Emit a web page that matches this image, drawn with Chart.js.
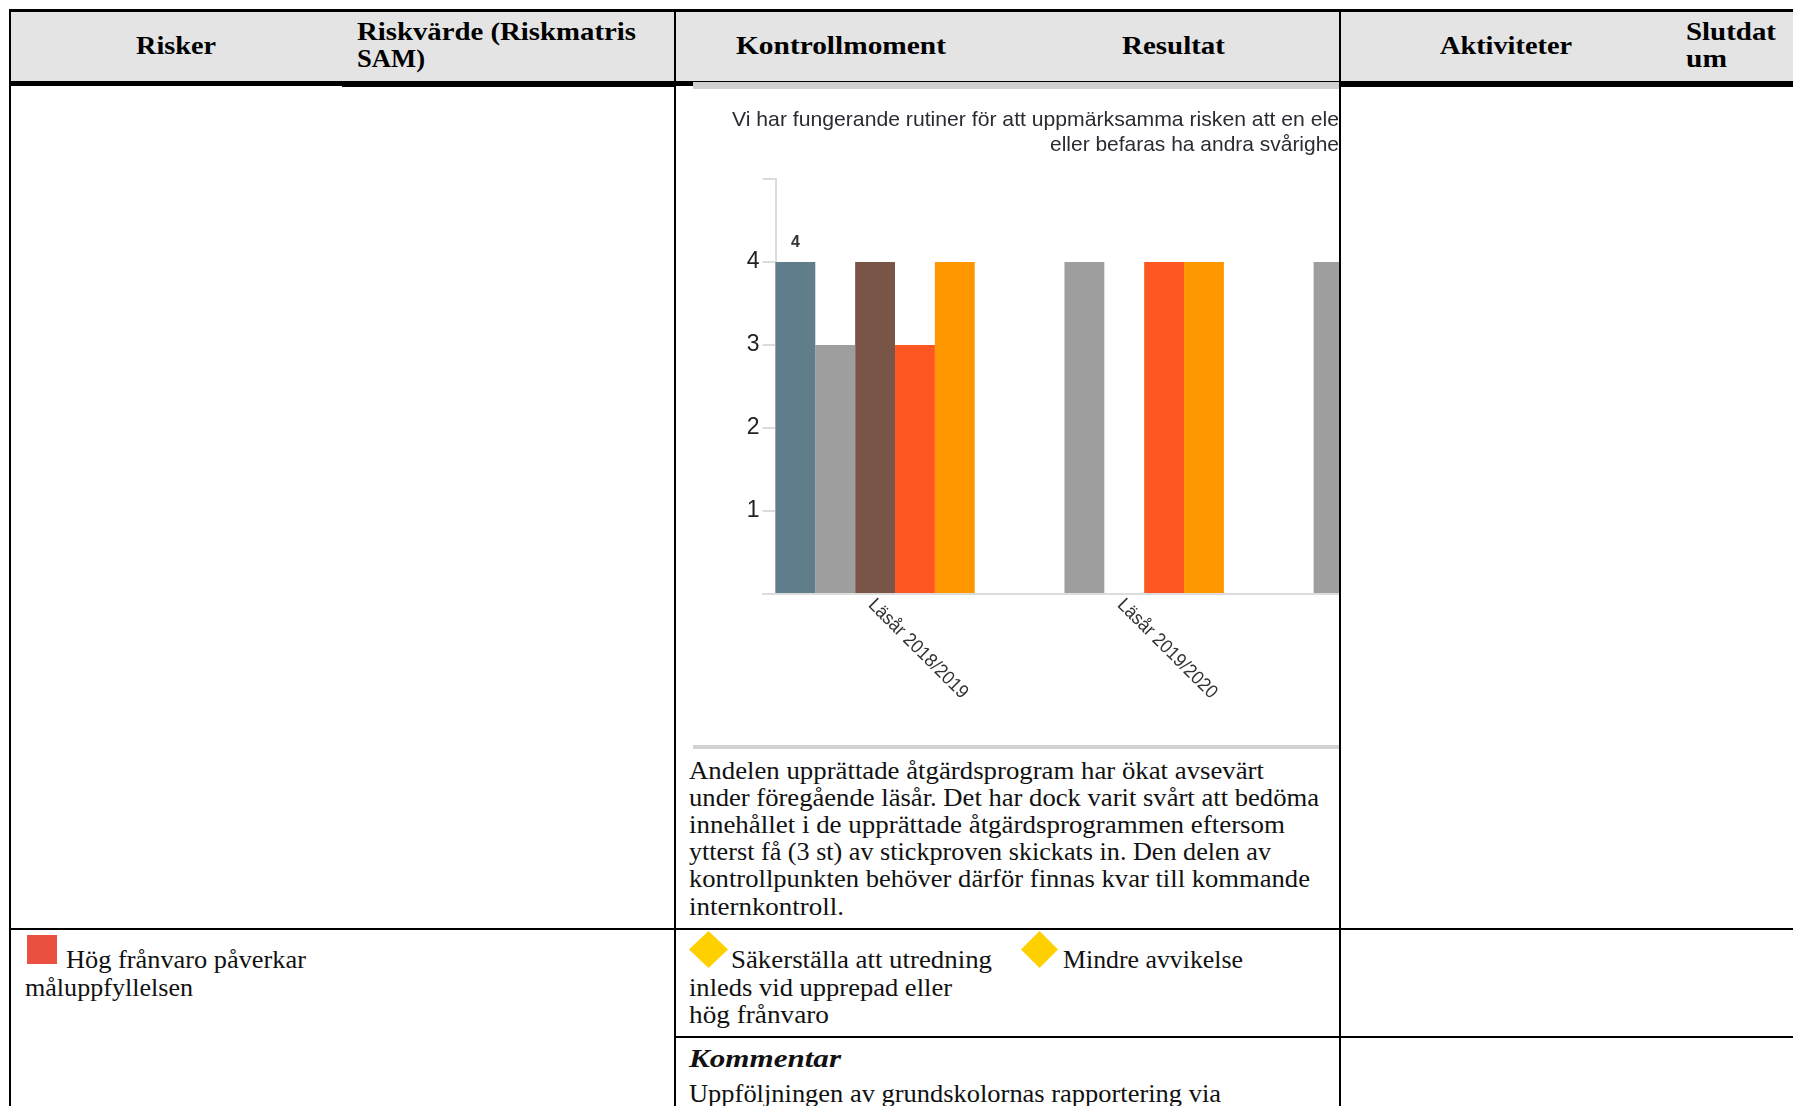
<!DOCTYPE html>
<html>
<head>
<meta charset="utf-8">
<script src="https://cdn.jsdelivr.net/npm/chart.js@4"></script>
<style>
  html, body { margin: 0; padding: 0; background: #fff; overflow: hidden; }
  #page { position: relative; width: 1793px; height: 1106px; overflow: hidden; font-family: "Liberation Serif", serif; color: #111; }
  .box { position: absolute; }
  .line { position: absolute; background: #000; }
  .t { position: absolute; white-space: nowrap; font-size: 26px; line-height: 30px; transform-origin: 0 50%; }
  .h { font-weight: bold; font-size: 26px; color: #000; }
  .ct { font-family: "Liberation Sans", sans-serif; font-size: 21px; line-height: 24px; color: #2b2b33; }
  #chartClip { position: absolute; left: 676px; top: 89px; width: 663px; height: 656px; overflow: hidden; }
  #chart { position: absolute; left: 17px; top: 0; }
  .diamond { position: absolute; background: #ffd000; clip-path: polygon(50% 0, 100% 50%, 50% 100%, 0 50%); }
</style>
</head>
<body>
<div id="page">
  <div class="box" style="left:10px;top:10px;width:1783px;height:71px;background:#e4e4e4"></div>
  <div class="box" style="left:693px;top:82px;width:646px;height:7px;background:#cfcfcf"></div>
  <div class="box" style="left:693px;top:745px;width:646px;height:4px;background:#d2d2d2"></div>

  <div id="chartClip"><canvas id="chart" width="805" height="656"></canvas></div>

  <div class="line" style="left:9px;top:9px;width:1784px;height:3px"></div>
  <div class="line" style="left:9px;top:81px;width:665px;height:5px"></div>
  <div class="line" style="left:342px;top:86px;width:333px;height:1px"></div>
  <div class="line" style="left:674px;top:81px;width:19px;height:5px"></div>
  <div class="line" style="left:693px;top:81px;width:646px;height:1px"></div>
  <div class="line" style="left:1339px;top:81px;width:454px;height:6px"></div>
  <div class="line" style="left:9px;top:9px;width:2px;height:1097px"></div>
  <div class="line" style="left:674px;top:9px;width:2px;height:1097px"></div>
  <div class="line" style="left:1339px;top:9px;width:2px;height:1097px"></div>
  <div class="line" style="left:9px;top:928px;width:1784px;height:2px"></div>
  <div class="line" style="left:674px;top:1036px;width:1119px;height:2px"></div>

  <span class="t h" data-x="136" data-y="46" data-w="80">Risker</span>
  <span class="t h" data-x="357" data-y="32" data-w="279">Riskvärde (Riskmatris</span>
  <span class="t h" data-x="356.5" data-y="59" data-w="68">SAM)</span>
  <span class="t h" data-x="736" data-y="46" data-w="210">Kontrollmoment</span>
  <span class="t h" data-x="1122" data-y="46" data-w="103">Resultat</span>
  <span class="t h" data-x="1439.5" data-y="46" data-w="132">Aktiviteter</span>
  <span class="t h" data-x="1686" data-y="32" data-w="90">Slutdat</span>
  <span class="t h" data-x="1686" data-y="59" data-w="41">um</span>

  <span class="t ct" data-x="732" data-y="119" data-w="607">Vi har fungerande rutiner för att uppmärksamma risken att en ele</span>
  <span class="t ct" data-x="1050" data-y="144" data-w="289">eller befaras ha andra svårighe</span>

  <span class="t" data-x="689" data-y="771" data-w="575">Andelen upprättade åtgärdsprogram har ökat avsevärt</span>
  <span class="t" data-x="689" data-y="798" data-w="630">under föregående läsår. Det har dock varit svårt att bedöma</span>
  <span class="t" data-x="689" data-y="825" data-w="596">innehållet i de upprättade åtgärdsprogrammen eftersom</span>
  <span class="t" data-x="689" data-y="852" data-w="582">ytterst få (3 st) av stickproven skickats in. Den delen av</span>
  <span class="t" data-x="689" data-y="879" data-w="621">kontrollpunkten behöver därför finnas kvar till kommande</span>
  <span class="t" data-x="689" data-y="907" data-w="155">internkontroll.</span>

  <div class="box" style="left:27px;top:935px;width:30px;height:29px;background:#ea4f3f"></div>
  <span class="t" data-x="66" data-y="960" data-w="240">Hög frånvaro påverkar</span>
  <span class="t" data-x="25" data-y="988" data-w="168">måluppfyllelsen</span>

  <div class="diamond" style="left:689px;top:931px;width:39px;height:37px"></div>
  <span class="t" data-x="731" data-y="960" data-w="261">Säkerställa att utredning</span>
  <span class="t" data-x="689" data-y="988" data-w="263">inleds vid upprepad eller</span>
  <span class="t" data-x="689" data-y="1015" data-w="140">hög frånvaro</span>
  <div class="diamond" style="left:1021px;top:931px;width:37px;height:37px"></div>
  <span class="t" data-x="1063" data-y="960" data-w="180">Mindre avvikelse</span>

  <span class="t" style="font-weight:bold;font-style:italic" data-x="689" data-y="1059" data-w="152">Kommentar</span>
  <span class="t" data-x="689" data-y="1094" data-w="532">Uppföljningen av grundskolornas rapportering via</span>
</div>

<script>
const categories = ["Läsår 2018/2019", "Läsår 2019/2020", "Läsår 2020/2021"];
const seriesBlue = [4, null, null];
const seriesGray = [3, 4, 4];
const seriesBrown = [4, null, null];
const seriesRed = [3, 4, null];
const seriesOrange = [4, 4, null];
const yTickValues = [1, 2, 3, 4];

// place the text lines and squeeze them to the measured width
document.querySelectorAll(".t").forEach(el => {
  const w = el.getBoundingClientRect().width;
  const h = el.getBoundingClientRect().height;
  el.style.left = el.dataset.x + "px";
  el.style.top = (el.dataset.y - h / 2) + "px";
  el.style.transform = "scaleX(" + (el.dataset.w / w) + ")";
});

// y axis sits inside the first category band and the x line starts at the tick end
const axisShift = {
  id: "axisShift",
  afterLayout(chart) {
    const y = chart.scales.y, x = chart.scales.x;
    y.left += 25;
    y.right += 25;
    x.left += 12;
  }
};

// rotated category labels run downwards to the right, which ticks can't do
const slantLabels = {
  id: "slantLabels",
  afterDraw(chart) {
    const ctx = chart.ctx, x = chart.scales.x;
    ctx.save();
    ctx.font = '19px "Liberation Sans", sans-serif';
    ctx.fillStyle = "#333";
    ctx.textBaseline = "middle";
    categories.forEach((label, i) => {
      ctx.save();
      ctx.translate(x.getPixelForTick(i) - 4, x.top + 8);
      ctx.rotate(Math.PI / 4);
      ctx.scale(0.93, 1);
      ctx.fillText(label, 0, 0);
      ctx.restore();
    });
    ctx.restore();
  }
};

// only the first bar carries a value label in the picture
const firstBarLabel = {
  id: "firstBarLabel",
  afterDatasetsDraw(chart) {
    const ctx = chart.ctx, bar = chart.getDatasetMeta(0).data[0];
    ctx.save();
    ctx.font = 'bold 16px "Liberation Sans", sans-serif';
    ctx.fillStyle = "#333";
    ctx.textAlign = "center";
    ctx.textBaseline = "bottom";
    ctx.fillText(String(seriesBlue[0]), bar.x, bar.y - 11);
    ctx.restore();
  }
};

new Chart(document.getElementById("chart").getContext("2d"), {
  type: "bar",
  data: {
    labels: categories,
    datasets: [
      { data: seriesBlue, backgroundColor: "#607d8b" },
      { data: seriesGray, backgroundColor: "#9e9e9e" },
      { data: seriesBrown, backgroundColor: "#795548" },
      { data: seriesRed, backgroundColor: "#ff5722" },
      { data: seriesOrange, backgroundColor: "#ff9800" }
    ]
  },
  options: {
    responsive: false,
    animation: false,
    devicePixelRatio: 1,
    layout: { padding: { left: 7.5, right: 0, top: 90, bottom: 151 } },
    datasets: { bar: { categoryPercentage: 0.8, barPercentage: 1 } },
    plugins: { legend: { display: false }, title: { display: false }, tooltip: { enabled: false } },
    scales: {
      x: {
        ticks: { display: false },
        grid: { drawOnChartArea: false, drawTicks: false },
        border: { color: "#dcdcdc", width: 2 }
      },
      y: {
        min: 0,
        max: 5,
        afterFit: s => { s.width = 50; },
        ticks: {
          stepSize: 1,
          padding: 3,
          color: "#222",
          font: { family: '"Liberation Sans", sans-serif', size: 23 },
          callback: v => yTickValues.includes(v) ? String(v) : ""
        },
        grid: { drawOnChartArea: false, tickLength: 13, color: "#dcdcdc", lineWidth: 2 },
        border: { color: "#dcdcdc", width: 2 }
      }
    }
  },
  plugins: [axisShift, slantLabels, firstBarLabel]
});
</script>
</body>
</html>
